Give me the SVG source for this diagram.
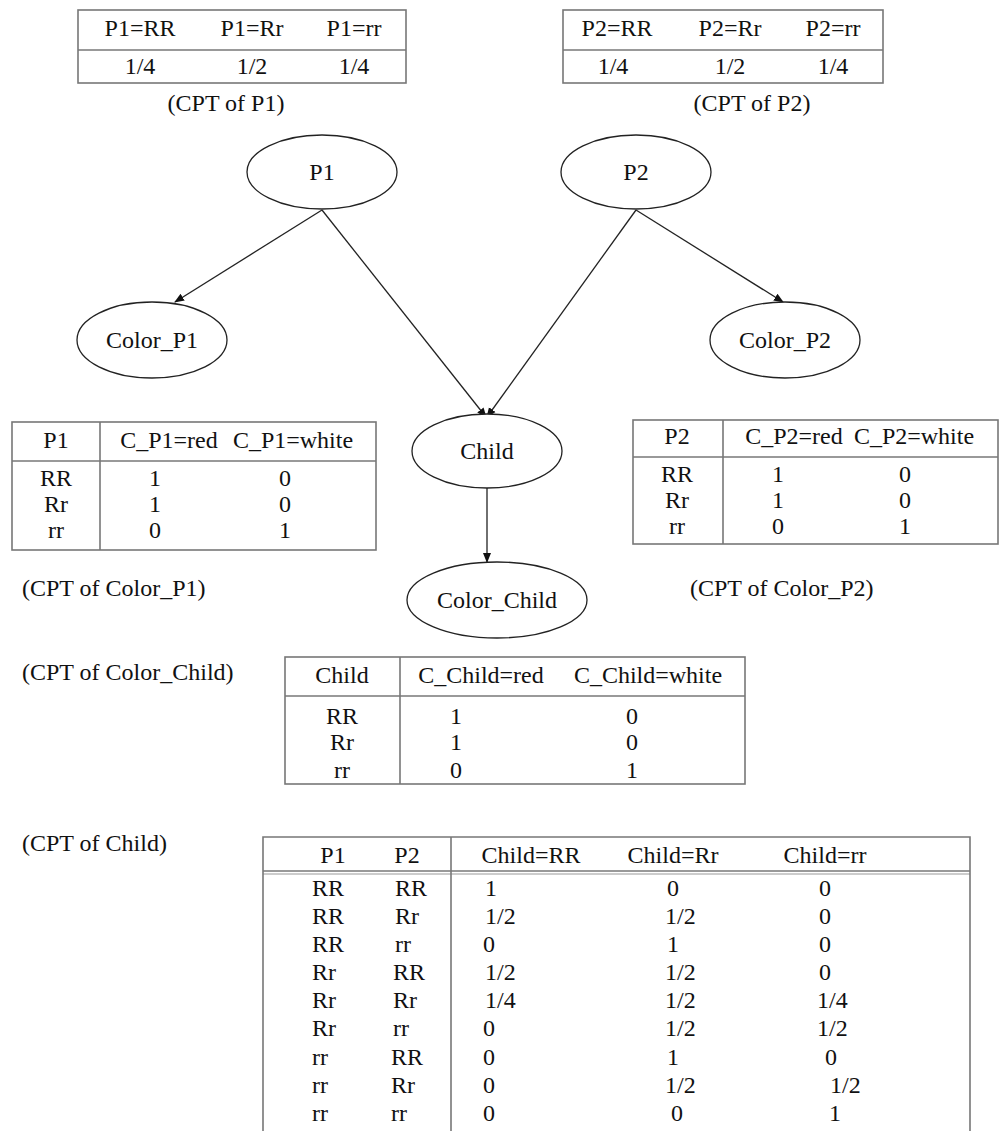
<svg xmlns="http://www.w3.org/2000/svg" width="1002" height="1131" viewBox="0 0 1002 1131">
<style>
text{font-family:"Liberation Serif","Times New Roman",serif;font-size:24px;fill:#111}
.c{text-anchor:middle}
.tb{fill:none;stroke:#777;stroke-width:1.6}
.tl{stroke:#777;stroke-width:1.6}
.n{fill:#fff;stroke:#222;stroke-width:1.3}
.e{stroke:#222;stroke-width:1.3;fill:none}
</style>
<defs>
<marker id="ah" markerWidth="10" markerHeight="10" refX="9" refY="5" orient="auto" markerUnits="userSpaceOnUse">
<path d="M0,1 L10,5 L0,9 z" fill="#111"/>
</marker>
</defs>

<g id="cpt-p1">
<rect class="tb" x="78" y="10" width="328" height="73"/>
<line class="tl" x1="78" y1="50" x2="406" y2="50"/>
<text class="c" x="140" y="36">P1=RR</text>
<text class="c" x="252" y="36">P1=Rr</text>
<text class="c" x="354" y="36">P1=rr</text>
<text class="c" x="140" y="74">1/4</text>
<text class="c" x="252" y="74">1/2</text>
<text class="c" x="354" y="74">1/4</text>
<text class="c" x="226" y="111">(CPT of P1)</text>
</g>

<g id="cpt-p2">
<rect class="tb" x="563" y="10" width="320" height="73"/>
<line class="tl" x1="563" y1="50" x2="883" y2="50"/>
<text class="c" x="617" y="36">P2=RR</text>
<text class="c" x="730" y="36">P2=Rr</text>
<text class="c" x="833" y="36">P2=rr</text>
<text class="c" x="613" y="74">1/4</text>
<text class="c" x="730" y="74">1/2</text>
<text class="c" x="833" y="74">1/4</text>
<text class="c" x="752" y="111">(CPT of P2)</text>
</g>

<g id="connectors">
<line class="e" x1="322" y1="210" x2="175" y2="302" marker-end="url(#ah)"/>
<line class="e" x1="322" y1="210" x2="486" y2="417" marker-end="url(#ah)"/>
<line class="e" x1="636" y1="210" x2="487" y2="417" marker-end="url(#ah)"/>
<line class="e" x1="636" y1="210" x2="783" y2="302" marker-end="url(#ah)"/>
<line class="e" x1="487" y1="488" x2="487" y2="562" marker-end="url(#ah)"/>
</g>

<g id="node-p1">
<ellipse class="n" cx="322" cy="172" rx="75" ry="37"/>
<text class="c" x="322" y="180">P1</text>
</g>
<g id="node-p2">
<ellipse class="n" cx="636" cy="172" rx="75" ry="37"/>
<text class="c" x="636" y="180">P2</text>
</g>
<g id="node-color-p1">
<ellipse class="n" cx="152" cy="340" rx="75" ry="38"/>
<text class="c" x="152" y="348">Color_P1</text>
</g>
<g id="node-color-p2">
<ellipse class="n" cx="785" cy="340" rx="75" ry="38"/>
<text class="c" x="785" y="348">Color_P2</text>
</g>
<g id="node-child">
<ellipse class="n" cx="487" cy="451" rx="75" ry="37"/>
<text class="c" x="487" y="459">Child</text>
</g>
<g id="node-color-child">
<ellipse class="n" cx="497" cy="600" rx="90" ry="38"/>
<text class="c" x="497" y="608">Color_Child</text>
</g>

<g id="cpt-color-p1">
<rect class="tb" x="12" y="422" width="364" height="128"/>
<line class="tl" x1="12" y1="461" x2="376" y2="461"/>
<line class="tl" x1="100" y1="422" x2="100" y2="550"/>
<text class="c" x="56" y="448">P1</text>
<text class="c" x="169" y="448">C_P1=red</text>
<text class="c" x="293" y="448">C_P1=white</text>
<text class="c" x="56" y="486">RR</text>
<text class="c" x="56" y="512">Rr</text>
<text class="c" x="56" y="538">rr</text>
<text class="c" x="155" y="486">1</text>
<text class="c" x="155" y="512">1</text>
<text class="c" x="155" y="538">0</text>
<text class="c" x="285" y="486">0</text>
<text class="c" x="285" y="512">0</text>
<text class="c" x="285" y="538">1</text>
<text x="22" y="596">(CPT of Color_P1)</text>
</g>

<g id="cpt-color-p2">
<rect class="tb" x="633" y="420" width="365" height="124"/>
<line class="tl" x1="633" y1="457" x2="998" y2="457"/>
<line class="tl" x1="723" y1="420" x2="723" y2="544"/>
<text class="c" x="677" y="444">P2</text>
<text class="c" x="794" y="444">C_P2=red</text>
<text class="c" x="914" y="444">C_P2=white</text>
<text class="c" x="677" y="482">RR</text>
<text class="c" x="677" y="508">Rr</text>
<text class="c" x="677" y="534">rr</text>
<text class="c" x="778" y="482">1</text>
<text class="c" x="778" y="508">1</text>
<text class="c" x="778" y="534">0</text>
<text class="c" x="905" y="482">0</text>
<text class="c" x="905" y="508">0</text>
<text class="c" x="905" y="534">1</text>
<text x="690" y="596">(CPT of Color_P2)</text>
</g>

<g id="cpt-color-child">
<text x="22" y="680">(CPT of Color_Child)</text>
<rect class="tb" x="285" y="657" width="460" height="127"/>
<line class="tl" x1="285" y1="696" x2="745" y2="696"/>
<line class="tl" x1="400" y1="657" x2="400" y2="784"/>
<text class="c" x="342" y="683">Child</text>
<text class="c" x="481" y="683">C_Child=red</text>
<text class="c" x="648" y="683">C_Child=white</text>
<text class="c" x="342" y="724">RR</text>
<text class="c" x="342" y="750">Rr</text>
<text class="c" x="342" y="778">rr</text>
<text class="c" x="456" y="724">1</text>
<text class="c" x="456" y="750">1</text>
<text class="c" x="456" y="778">0</text>
<text class="c" x="632" y="724">0</text>
<text class="c" x="632" y="750">0</text>
<text class="c" x="632" y="778">1</text>
</g>

<g id="cpt-child">
<text x="22" y="851">(CPT of Child)</text>
<path class="tb" d="M263,1131 V837 H970 V1131"/>
<line class="tl" x1="263" y1="871" x2="970" y2="871"/>
<line class="tl" x1="263" y1="874" x2="970" y2="874" stroke-opacity="0.5"/>
<line class="tl" x1="451" y1="837" x2="451" y2="1131"/>
<text class="c" x="333" y="863">P1</text>
<text class="c" x="407" y="863">P2</text>
<text class="c" x="531" y="863">Child=RR</text>
<text class="c" x="673" y="863">Child=Rr</text>
<text class="c" x="825" y="863">Child=rr</text>
<g>
<text x="312" y="896">RR</text><text x="395" y="896">RR</text>
<text x="312" y="924">RR</text><text x="395" y="924">Rr</text>
<text x="312" y="952">RR</text><text x="395" y="952">rr</text>
<text x="312" y="980">Rr</text><text x="393" y="980">RR</text>
<text x="312" y="1008">Rr</text><text x="393" y="1008">Rr</text>
<text x="312" y="1036">Rr</text><text x="393" y="1036">rr</text>
<text x="312" y="1065">rr</text><text x="391" y="1065">RR</text>
<text x="312" y="1093">rr</text><text x="391" y="1093">Rr</text>
<text x="312" y="1121">rr</text><text x="391" y="1121">rr</text>
</g>
<g>
<text x="485" y="896">1</text><text x="667" y="896">0</text><text x="819" y="896">0</text>
<text x="485" y="924">1/2</text><text x="665" y="924">1/2</text><text x="819" y="924">0</text>
<text x="483" y="952">0</text><text x="667" y="952">1</text><text x="819" y="952">0</text>
<text x="485" y="980">1/2</text><text x="665" y="980">1/2</text><text x="819" y="980">0</text>
<text x="485" y="1008">1/4</text><text x="665" y="1008">1/2</text><text x="817" y="1008">1/4</text>
<text x="483" y="1036">0</text><text x="665" y="1036">1/2</text><text x="817" y="1036">1/2</text>
<text x="483" y="1065">0</text><text x="667" y="1065">1</text><text x="825" y="1065">0</text>
<text x="483" y="1093">0</text><text x="665" y="1093">1/2</text><text x="830" y="1093">1/2</text>
<text x="483" y="1121">0</text><text x="671" y="1121">0</text><text x="829" y="1121">1</text>
</g>
</g>
</svg>
